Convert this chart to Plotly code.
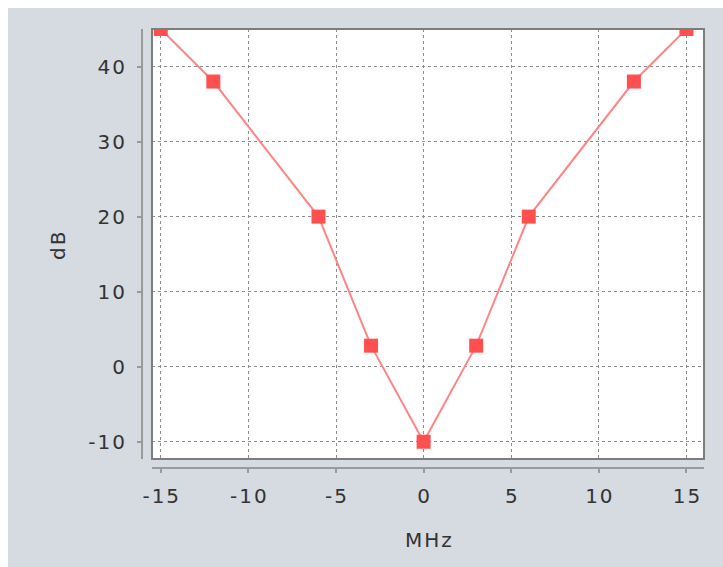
import plotly.graph_objects as go

# Attenuation mask: offset frequency (MHz) vs. level (dB)
freq_mhz = [-15, -12, -6, -3, 0, 3, 6, 12, 15]
level_db = [45, 38, 20, 2.8, -10, 2.8, 20, 38, 45]

x_ticks = [-15, -10, -5, 0, 5, 10, 15]
y_ticks = [-10, 0, 10, 20, 30, 40]

W, H = 723, 567
BG = "#d6dae1"
FONT = "DejaVu Sans"
TXT = "#333333"
SP = "\u200a"  # hair space used as letter spacing


def spaced(s):
    return SP.join(str(s))


def px_x(v):
    return v / W


def px_y(v):
    return 1 - v / H


fig = go.Figure()
fig.add_trace(go.Scatter(
    x=freq_mhz, y=level_db, mode="lines+markers",
    line=dict(color="#ff8585", width=2),
    marker=dict(symbol="square", size=14, color="#ff4f4f"),
    showlegend=False,
))

x_dom = [px_x(152), px_x(704)]
y_dom = [px_y(459), px_y(29)]

tickfont = dict(family=FONT, size=20, color=TXT)

fig.update_layout(
    width=W, height=H,
    margin=dict(l=0, r=0, t=0, b=0, autoexpand=False),
    paper_bgcolor=BG, plot_bgcolor="white",
    xaxis=dict(
        domain=x_dom, range=[-15.5, 16.0], anchor="free", position=px_y(468),
        tickvals=x_ticks, ticktext=[spaced(v) for v in x_ticks],
        showline=True, linecolor="#9a9a9a", linewidth=2,
        ticks="outside", ticklen=4, tickcolor="#9a9a9a", tickwidth=2,
        showgrid=True, gridcolor="#8c8c8c", gridwidth=1, griddash="3px,3px",
        zeroline=False, tickfont=tickfont, ticklabelstandoff=6, automargin=False,
    ),
    yaxis=dict(
        domain=y_dom, range=[-12.3, 45.0], anchor="free", position=px_x(142),
        tickvals=y_ticks, ticktext=[spaced(v) for v in y_ticks],
        showline=True, linecolor="#9a9a9a", linewidth=2,
        ticks="outside", ticklen=4, tickcolor="#9a9a9a", tickwidth=2,
        showgrid=True, gridcolor="#8c8c8c", gridwidth=1, griddash="3px,3px",
        zeroline=False, tickfont=tickfont, ticklabelstandoff=8, automargin=False,
    ),
    shapes=[
        # white strips along the top and left edges
        dict(type="rect", xref="paper", yref="paper", x0=0, x1=1, y0=px_y(8), y1=1,
             fillcolor="white", line=dict(width=0), layer="below"),
        dict(type="rect", xref="paper", yref="paper", x0=0, x1=px_x(8), y0=0, y1=1,
             fillcolor="white", line=dict(width=0), layer="below"),
        # plot frame
        dict(type="rect", xref="paper", yref="paper", x0=x_dom[0], x1=x_dom[1],
             y0=y_dom[0], y1=y_dom[1], line=dict(color="#7d7d7d", width=2),
             layer="above"),
    ],
    annotations=[
        dict(text=spaced("MHz"), x=px_x(428), y=px_y(540), xref="paper", yref="paper",
             xanchor="center", yanchor="middle",
             showarrow=False, font=dict(family=FONT, size=20, color=TXT)),
        dict(text=spaced("dB"), x=px_x(58), y=px_y(246), xref="paper", yref="paper",
             xanchor="center", yanchor="middle",
             showarrow=False, textangle=-90, font=dict(family=FONT, size=20, color=TXT)),
    ],
)

fig.write_html("out.html")
